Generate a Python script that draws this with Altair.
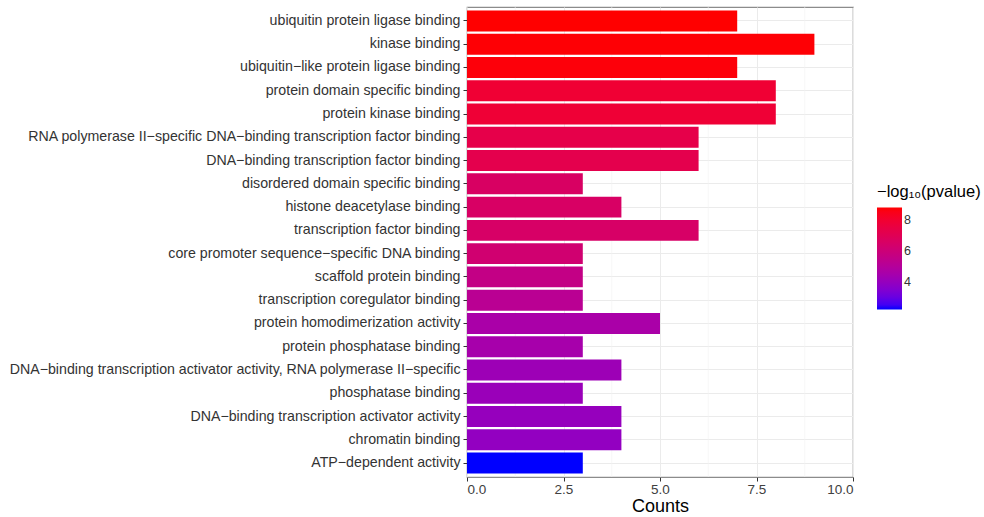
import altair as alt
import pandas as pd

terms = [
    "ubiquitin protein ligase binding",
    "kinase binding",
    "ubiquitin\u2212like protein ligase binding",
    "protein domain specific binding",
    "protein kinase binding",
    "RNA polymerase II\u2212specific DNA\u2212binding transcription factor binding",
    "DNA\u2212binding transcription factor binding",
    "disordered domain specific binding",
    "histone deacetylase binding",
    "transcription factor binding",
    "core promoter sequence\u2212specific DNA binding",
    "scaffold protein binding",
    "transcription coregulator binding",
    "protein homodimerization activity",
    "protein phosphatase binding",
    "DNA\u2212binding transcription activator activity, RNA polymerase II\u2212specific",
    "phosphatase binding",
    "DNA\u2212binding transcription activator activity",
    "chromatin binding",
    "ATP\u2212dependent activity",
]
counts = [7, 9, 7, 8, 8, 6, 6, 3, 4, 6, 3, 3, 3, 5, 3, 4, 3, 4, 4, 3]
neglog10p = [8.8, 8.75, 8.7, 7.9, 7.85, 7.3, 7.2, 6.6, 6.55, 6.5, 6.2, 5.6, 5.2,
             4.6, 4.5, 4.2, 4.1, 4.0, 3.9, 2.2]
minor_x = [1.25, 3.75, 6.25, 8.75]
major_x = [0, 2.5, 5, 7.5, 10]

df = pd.DataFrame({"term": terms, "Counts": counts, "p": neglog10p})
minor_df = pd.DataFrame({"v": minor_x})

FONT = "Liberation Sans"

xscale = alt.Scale(domain=[0, 10], nice=False, zero=True)
yscale = alt.Scale(domain=terms, paddingInner=0.1, paddingOuter=0.15)

xaxis = alt.Axis(values=major_x, title="Counts", format=".1f",
                 labelFontSize=13.5, titleFontSize=18, titleFontWeight="normal",
                 labelColor="#404040", titleColor="#000000",
                 gridColor="#EBEBEB", tickColor="#333333", tickSize=4,
                 domain=False, titlePadding=2, labelPadding=1,
                 labelFont=FONT, titleFont=FONT)

minor = alt.Chart(minor_df).mark_rule(color="#F2F2F2", strokeWidth=0.6).encode(
    x=alt.X("v:Q", scale=xscale, axis=xaxis)
)

bars = alt.Chart(df).mark_bar().encode(
    x=alt.X("Counts:Q", scale=xscale, axis=xaxis),
    y=alt.Y("term:N", scale=yscale, sort=terms,
            axis=alt.Axis(title=None, labelFontSize=14.2, labelColor="#333333",
                          labelFont=FONT, gridColor="#EBEBEB", bandPosition=0.5,
                          grid=True, tickColor="#333333", tickSize=4, domain=False,
                          labelPadding=3, labelLimit=700)),
    color=alt.Color("p:Q",
                    scale=alt.Scale(domain=[2.2, 8.8], range=["#0000FF", "#FF0000"],
                                    interpolate="lab"),
                    legend=alt.Legend(title="\u2212log\u2081\u2080(pvalue)", values=[4, 6, 8],
                                      orient="none", legendX=410, legendY=177,
                                      gradientLength=102, gradientThickness=25,
                                      titleFontSize=16.5, titleFontWeight="normal",
                                      titleFont=FONT, labelFont=FONT, labelFontSize=12.5,
                                      labelColor="#333333", titleColor="#000000",
                                      titlePadding=7, gradientStrokeWidth=0)),
)

chart = alt.layer(minor, bars).properties(
    width=386, height=470,
    background="white",
    padding={"left": 8, "top": 6, "right": 0, "bottom": 0},
).configure_view(stroke="#8C8C8C", strokeWidth=1.2)

chart.save("out.html", embed_options={"renderer": "svg", "actions": False})
